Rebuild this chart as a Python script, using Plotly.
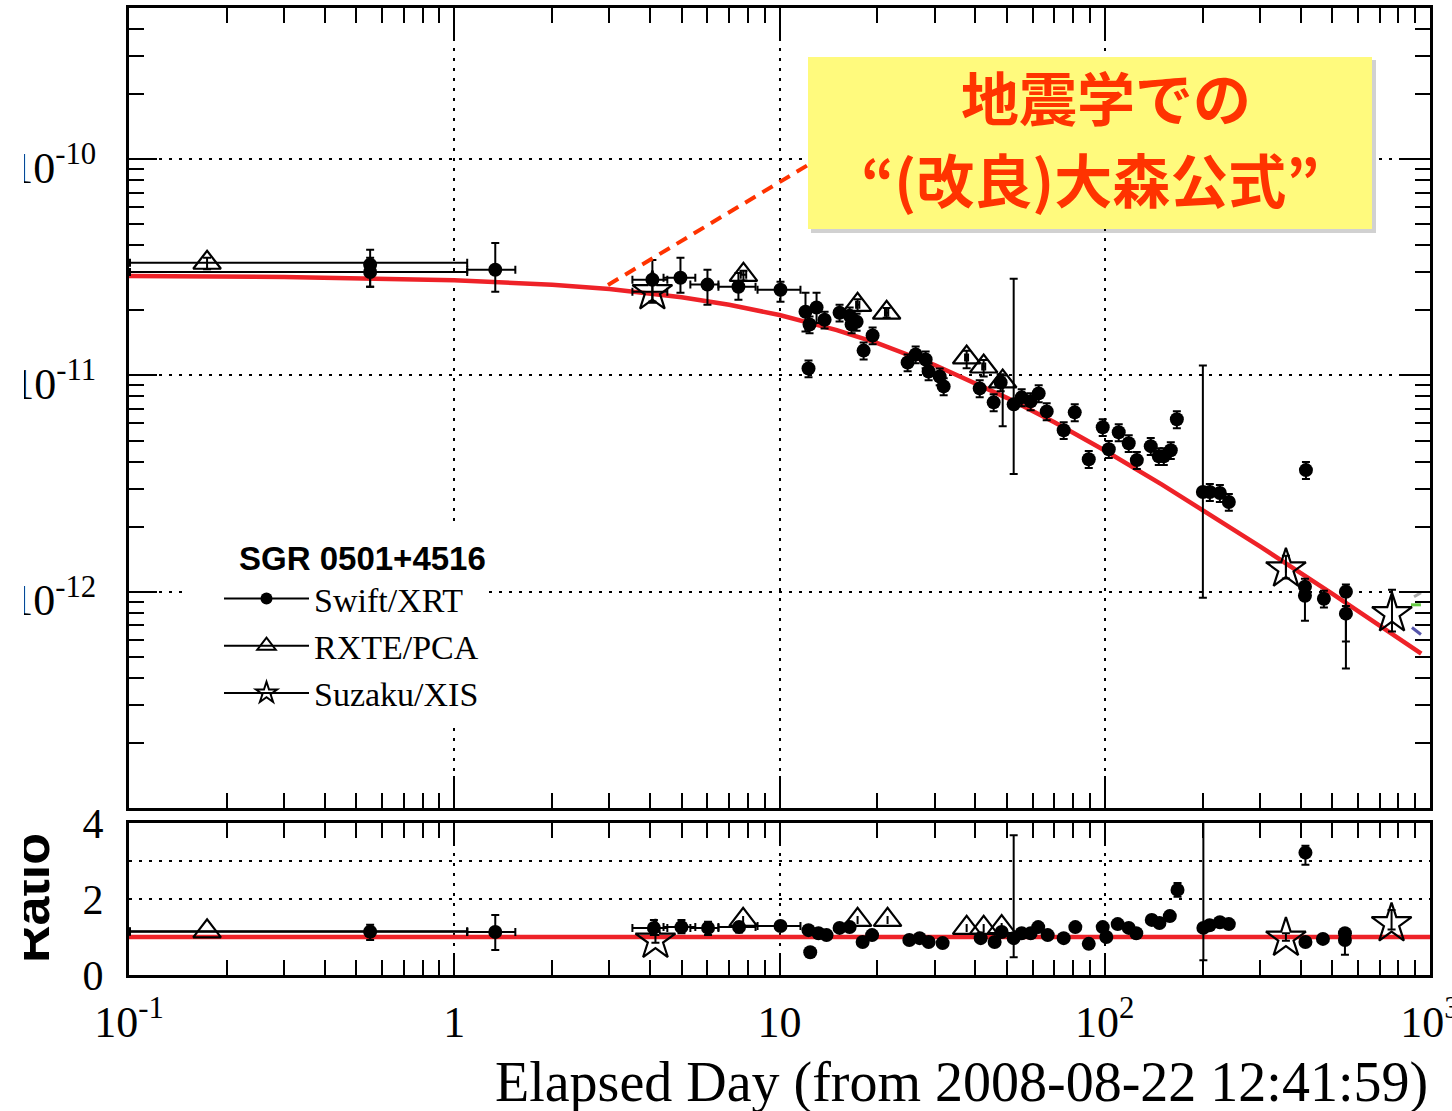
import plotly.graph_objects as go

# ---------------- data ----------------
# model ("modified Omori") curve, sampled along the red line
fit_t = [0.1, 0.3, 1, 2, 3, 5, 7, 10, 15, 20, 30, 50, 70, 100, 150, 200, 300, 500, 700, 940]
fit_flux = [2.885e-11, 2.855e-11, 2.757e-11, 2.627e-11, 2.508e-11, 2.30e-11, 2.123e-11, 1.902e-11,
            1.62e-11, 1.41e-11, 1.118e-11, 7.88e-12, 6.07e-12, 4.50e-12, 3.13e-12, 2.39e-12,
            1.62e-12, 9.8e-13, 6.98e-13, 5.18e-13]

# Swift/XRT points with individually visible error bars
swA_t = [0.5513, 0.5513, 1.337, 4.066, 4.960, 6.005, 7.477, 10.07, 12.02, 13.00, 52.48, 200.3, 412.6, 551.4, 551.4]
swA_f = [3.25e-11, 3.01e-11, 3.08e-11, 2.77e-11, 2.83e-11, 2.63e-11, 2.57e-11, 2.49e-11, 1.97e-11, 2.06e-11,
         7.35e-12, 2.89e-12, 9.58e-13, 1.0e-12, 7.92e-13]
swA_flo = [2.57e-11, 2.57e-11, 2.44e-11, 2.17e-11, 2.41e-11, 2.12e-11, 2.24e-11, 2.19e-11, 1.595e-11, 1.75e-11,
           3.50e-12, 9.38e-13, 7.35e-13, 5.88e-13, 4.42e-13]
swA_fhi = [3.81e-11, 3.50e-11, 4.10e-11, 3.42e-11, 3.50e-11, 3.08e-11, 2.98e-11, 2.71e-11, 2.41e-11, 2.41e-11,
           2.80e-11, 1.112e-11, 1.05e-12, 1.08e-12, 8.6e-13]
swA_tlo = [0.5513, 0.1007, 1.096, 3.53, 4.40, 5.32, 6.49, 8.56, 11.8, 12.8, 52.48, 200.3, 412.6, 551.4, 551.4]
swA_thi = [0.5513, 1.096, 1.541, 4.52, 5.51, 6.49, 8.44, 11.6, 12.3, 13.2, 52.48, 200.3, 412.6, 551.4, 551.4]

# remaining Swift/XRT points (small error bars)
swB_t = [12.28, 12.37, 13.76, 15.30, 16.43, 16.66, 17.26, 18.14, 19.33, 24.77, 26.22, 28.14, 28.74, 31.08,
         31.97, 41.26, 45.55, 47.86, 55.53, 59.19, 62.64, 66.30, 74.77, 80.86, 89.30, 98.58, 102.9, 110.4,
         118.5, 125.5, 138.5, 146.6, 151.9, 159.6, 166.6, 210.4, 225.9, 240.7, 415.5, 412.6, 471.9]
swB_f = [1.077e-11, 1.72e-11, 1.81e-11, 1.95e-11, 1.89e-11, 1.72e-11, 1.77e-11, 1.303e-11, 1.53e-11, 1.148e-11,
         1.25e-11, 1.185e-11, 1.043e-11, 9.89e-12, 8.90e-12, 8.71e-12, 7.51e-12, 9.28e-12, 7.92e-12, 7.59e-12,
         8.26e-12, 6.82e-12, 5.58e-12, 6.75e-12, 4.10e-12, 5.76e-12, 4.56e-12, 5.46e-12, 4.86e-12, 4.06e-12,
         4.71e-12, 4.23e-12, 4.23e-12, 4.51e-12, 6.27e-12, 2.89e-12, 2.86e-12, 2.60e-12, 3.65e-12, 1.054e-12,
         9.28e-13]

# RXTE/PCA
rx_t = [0.1738, 7.747, 17.38, 21.35, 37.62, 42.44, 48.55]
rx_f = [3.32e-11, 2.92e-11, 2.12e-11, 1.95e-11, 1.211e-11, 1.10e-11, 9.38e-12]
rx_flo = [3.10e-11, 2.75e-11, 1.98e-11, 1.85e-11, 1.08e-11, 9.9e-12, 5.82e-12]
rx_fhi = [3.50e-11, 3.05e-11, 2.25e-11, 2.05e-11, 1.30e-11, 1.18e-11, 1.00e-11]
rx_tlo = [0.1007, 7.6, 17.2, 21.1, 37.2, 42.0, 48.0]
rx_thi = [1.096, 7.9, 17.6, 21.6, 38.0, 42.9, 49.1]

# Suzaku/XIS
sz_t = [4.066, 360.6, 764.1]
sz_f = [2.44e-11, 1.276e-12, 7.92e-13]
sz_flo = [2.20e-11, 1.15e-12, 6.54e-13]
sz_fhi = [2.70e-11, 1.466e-12, 1.02e-12]
sz_tlo = [3.53, 360.6, 764.1]
sz_thi = [4.52, 360.6, 764.1]

# small coloured model fragments at the right edge
frag_gray_t, frag_gray_f = [893, 938], [9.48e-13, 9.9e-13]
frag_green_t, frag_green_f = [874, 938], [8.7e-13, 8.7e-13]
frag_blue_t, frag_blue_f = [880, 938], [6.83e-13, 6.34e-13]

# ---- ratio panel ----
ratio_model_t = [0.1, 1000]
ratio_model = [1, 1]

rsA_t = [0.5513, 1.337, 4.11, 4.995, 6.03, 7.51, 10.07, 52.48, 201.0, 414.0, 547.6]
rsA_r = [1.14, 1.13, 1.24, 1.26, 1.24, 1.26, 1.29, 0.97, 1.24, 3.22, 0.92]
rsA_rlo = [0.92, 0.66, 1.05, 1.10, 1.05, 1.12, 1.18, 0.47, 0.39, 2.90, 0.53]
rsA_rhi = [1.32, 1.58, 1.45, 1.45, 1.40, 1.38, 1.38, 3.68, 4.30, 3.40, 1.00]
rsA_tlo = [0.1007, 1.096, 3.53, 4.40, 5.32, 6.49, 8.56, 52.48, 201.0, 414.0, 547.6]
rsA_thi = [1.096, 1.541, 4.52, 5.51, 6.49, 8.44, 11.6, 52.48, 201.0, 414.0, 547.6]

rsB_t = [12.28, 12.43, 13.18, 13.95, 15.30, 16.43, 18.01, 19.26, 25.07, 26.97, 28.74, 31.74, 41.55, 45.87,
         48.20, 55.53, 59.19, 62.43, 66.77, 74.77, 81.20, 89.30, 98.58, 101.1, 109.6, 118.5, 125.0, 139.5,
         147.3, 158.5, 167.4, 210.0, 225.9, 240.7, 414.0, 468.6, 547.6]
rsB_r = [1.18, 0.60, 1.10, 1.05, 1.24, 1.26, 0.87, 1.05, 0.92, 0.97, 0.87, 0.84, 0.97, 0.87,
         1.13, 1.10, 1.10, 1.26, 1.05, 0.97, 1.26, 0.82, 1.26, 1.00, 1.34, 1.24, 1.10, 1.45,
         1.37, 1.55, 2.24, 1.31, 1.39, 1.34, 0.87, 0.95, 1.10]

rrx_t = [0.1738, 7.73, 17.38, 21.49, 37.62, 42.44, 48.20]
rrx_r = [1.15, 1.45, 1.45, 1.45, 1.24, 1.24, 1.26]
rrx_tlo = [0.1007, 7.73, 17.38, 21.49, 37.62, 42.44, 48.20]
rrx_thi = [1.096, 7.73, 17.38, 21.49, 37.62, 42.44, 48.20]

rsz_t = [4.155, 360.6, 761.8]
rsz_r = [0.92, 0.97, 1.35]
rsz_rlo = [0.85, 0.90, 1.20]
rsz_rhi = [1.05, 1.10, 1.71]

x_tickvals = [0.1, 1, 10, 100, 1000]
x_ticktext = ["10<sup>-1</sup>", "1", "10", "10<sup>2</sup>", "10<sup>3</sup>"]
y_tickvals = [1e-12, 1e-11, 1e-10]
y_ticktext = ["10<sup>-12</sup>", "10<sup>-11</sup>", "10<sup>-10</sup>"]
r_tickvals = [0, 2, 4]
r_gridvals = [2, 3]

callout_line1 = "地震学での"
callout_line2 = "“(改良)大森公式”"
legend_title = "SGR 0501+4516"
x_title = "Elapsed Day (from 2008-08-22 12:41:59)"
r_title = "Ratio"

# ---------------- figure ----------------
W, H = 1452, 1111
L, R, T, B = 129, 22, 8, 136
PW, PH = W - L - R, H - T - B


def px_x(p):
    return (p - L) / PW


def px_y(p):
    return (H - B - p) / PH


def diff_hi(v, hi):
    return [h - a for a, h in zip(v, hi)]


def diff_lo(v, lo):
    return [a - l for a, l in zip(v, lo)]


BLACK = "black"
FITRED = "#EE2228"
TXTRED = "#FF3300"
ebar = dict(color=BLACK, thickness=2, width=4)
CIRC = 14
TRI = 24
STAR = 30

fig = go.Figure()

# --- top panel ---
fig.add_trace(go.Scatter(x=fit_t, y=fit_flux, mode="lines", line=dict(color=FITRED, width=4.5),
                         showlegend=False, xaxis="x", yaxis="y"))
for ft, ff, col, dash in [(frag_gray_t, frag_gray_f, "#A8A8A8", "dash"),
                          (frag_green_t, frag_green_f, "#66CC44", "solid"),
                          (frag_blue_t, frag_blue_f, "#5555AA", "solid")]:
    fig.add_trace(go.Scatter(x=ft, y=ff, mode="lines", line=dict(color=col, width=3, dash=dash),
                             showlegend=False, xaxis="x", yaxis="y"))

fig.add_trace(go.Scatter(
    x=swA_t, y=swA_f, mode="markers", showlegend=False, xaxis="x", yaxis="y",
    marker=dict(symbol="circle", size=CIRC, color=BLACK),
    error_y=dict(type="data", symmetric=False, array=diff_hi(swA_f, swA_fhi),
                 arrayminus=diff_lo(swA_f, swA_flo), **ebar),
    error_x=dict(type="data", symmetric=False, array=diff_hi(swA_t, swA_thi),
                 arrayminus=diff_lo(swA_t, swA_tlo), **ebar)))
fig.add_trace(go.Scatter(
    x=swB_t, y=swB_f, mode="markers", showlegend=False, xaxis="x", yaxis="y",
    marker=dict(symbol="circle", size=CIRC, color=BLACK),
    error_y=dict(type="percent", value=9, **ebar)))
fig.add_trace(go.Scatter(
    x=rx_t, y=rx_f, mode="markers", showlegend=False, xaxis="x", yaxis="y",
    marker=dict(symbol="triangle-up-open", size=TRI, color=BLACK, line=dict(width=2.2, color=BLACK)),
    error_y=dict(type="data", symmetric=False, array=diff_hi(rx_f, rx_fhi),
                 arrayminus=diff_lo(rx_f, rx_flo), **ebar),
    error_x=dict(type="data", symmetric=False, array=diff_hi(rx_t, rx_thi),
                 arrayminus=diff_lo(rx_t, rx_tlo), **ebar)))
fig.add_trace(go.Scatter(
    x=sz_t, y=sz_f, mode="markers", showlegend=False, xaxis="x", yaxis="y",
    marker=dict(symbol="star-open", size=STAR, color=BLACK, line=dict(width=2.2, color=BLACK)),
    error_y=dict(type="data", symmetric=False, array=diff_hi(sz_f, sz_fhi),
                 arrayminus=diff_lo(sz_f, sz_flo), **ebar),
    error_x=dict(type="data", symmetric=False, array=diff_hi(sz_t, sz_thi),
                 arrayminus=diff_lo(sz_t, sz_tlo), **ebar)))

# legend entries
fig.add_trace(go.Scatter(x=[None], y=[None], mode="lines+markers", name="Swift/XRT",
                         line=dict(color=BLACK, width=2),
                         marker=dict(symbol="circle", size=12, color=BLACK), xaxis="x", yaxis="y"))
fig.add_trace(go.Scatter(x=[None], y=[None], mode="lines+markers", name="RXTE/PCA",
                         line=dict(color=BLACK, width=2),
                         marker=dict(symbol="triangle-up-open", size=16, color=BLACK,
                                     line=dict(width=2, color=BLACK)), xaxis="x", yaxis="y"))
fig.add_trace(go.Scatter(x=[None], y=[None], mode="lines+markers", name="Suzaku/XIS",
                         line=dict(color=BLACK, width=2),
                         marker=dict(symbol="star-open", size=16, color=BLACK,
                                     line=dict(width=2, color=BLACK)), xaxis="x", yaxis="y"))

# --- ratio panel ---
fig.add_trace(go.Scatter(x=ratio_model_t, y=ratio_model, mode="lines", line=dict(color=FITRED, width=4.5),
                         showlegend=False, xaxis="x2", yaxis="y2"))
fig.add_trace(go.Scatter(
    x=rsA_t, y=rsA_r, mode="markers", showlegend=False, xaxis="x2", yaxis="y2",
    marker=dict(symbol="circle", size=CIRC, color=BLACK),
    error_y=dict(type="data", symmetric=False, array=diff_hi(rsA_r, rsA_rhi),
                 arrayminus=diff_lo(rsA_r, rsA_rlo), **ebar),
    error_x=dict(type="data", symmetric=False, array=diff_hi(rsA_t, rsA_thi),
                 arrayminus=diff_lo(rsA_t, rsA_tlo), **ebar)))
fig.add_trace(go.Scatter(
    x=rsB_t, y=rsB_r, mode="markers", showlegend=False, xaxis="x2", yaxis="y2",
    marker=dict(symbol="circle", size=CIRC, color=BLACK),
    error_y=dict(type="percent", value=8, **ebar)))
fig.add_trace(go.Scatter(
    x=rrx_t, y=rrx_r, mode="markers", showlegend=False, xaxis="x2", yaxis="y2",
    marker=dict(symbol="triangle-up-open", size=TRI, color=BLACK, line=dict(width=2.2, color=BLACK)),
    error_x=dict(type="data", symmetric=False, array=diff_hi(rrx_t, rrx_thi),
                 arrayminus=diff_lo(rrx_t, rrx_tlo), **ebar)))
fig.add_trace(go.Scatter(
    x=rsz_t, y=rsz_r, mode="markers", showlegend=False, xaxis="x2", yaxis="y2",
    marker=dict(symbol="star-open", size=STAR, color=BLACK, line=dict(width=2.2, color=BLACK)),
    error_y=dict(type="data", symmetric=False, array=diff_hi(rsz_r, rsz_rhi),
                 arrayminus=diff_lo(rsz_r, rsz_rlo), **ebar)))

GRIDDASH = "3px,7px"
common_x = dict(type="log", range=[-1, 3], tickvals=x_tickvals, ticks="inside", tickwidth=2,
                tickcolor=BLACK, showline=True, linewidth=3, linecolor=BLACK, mirror="allticks",
                showgrid=True, gridcolor=BLACK, gridwidth=2, griddash=GRIDDASH, zeroline=False,
                automargin=False,
                minor=dict(ticks="inside", ticklen=15, tickwidth=2, tickcolor=BLACK, dtick="D1",
                           showgrid=False))

fig.update_layout(
    width=W, height=H, margin=dict(l=L, r=R, t=T, b=B, autoexpand=False),
    paper_bgcolor="white", plot_bgcolor="white",
    xaxis=dict(common_x, domain=[0, 1], anchor="y", showticklabels=False, ticklen=32),
    yaxis=dict(type="log", range=[-13, -9.301], domain=[px_y(808), 1], anchor="x",
               tickvals=y_tickvals, ticktext=y_ticktext, ticks="inside", ticklen=28, tickwidth=2,
               tickcolor=BLACK, showline=True, linewidth=3, linecolor=BLACK, mirror="allticks",
               showgrid=True, gridcolor=BLACK, gridwidth=2, griddash=GRIDDASH, zeroline=False,
               ticklabelstandoff=21, ticklabelshift=8, automargin=False,
               tickfont=dict(family="Liberation Serif", size=44, color=BLACK),
               minor=dict(ticks="inside", ticklen=15, tickwidth=2, tickcolor=BLACK, dtick="D1",
                          showgrid=False)),
    xaxis2=dict(common_x, domain=[0, 1], anchor="y2", ticklen=20, tickvals=x_tickvals,
                ticktext=x_ticktext, ticklabelstandoff=6, ticklabeloverflow="allow",
                tickfont=dict(family="Liberation Serif", size=44, color=BLACK)),
    yaxis2=dict(range=[0, 4], domain=[0, px_y(823)], anchor="x2", tickvals=r_tickvals,
                ticks="", showline=True, linewidth=3, linecolor=BLACK, mirror=True,
                showgrid=False, zeroline=False, ticklabelstandoff=14, automargin=False,
                tickfont=dict(family="Liberation Serif", size=42, color=BLACK),
                minor=dict(tickmode="array", tickvals=r_gridvals, ticks="", showgrid=True,
                           gridcolor=BLACK, gridwidth=2, griddash=GRIDDASH)),
    legend=dict(x=px_x(182), y=px_y(527), xanchor="left", yanchor="top", bgcolor="white",
                borderwidth=0, font=dict(family="Liberation Serif", size=34, color=BLACK),
                title=dict(text="\u00a0" * 6 + "<b>" + legend_title + "</b>",
                           font=dict(family="Liberation Sans", size=33, color=BLACK)),
                itemwidth=85, indentation=37),
    showlegend=True,
)

# callout box with shadow and dashed connector
fig.add_shape(type="rect", xref="paper", yref="paper", x0=px_x(811), x1=px_x(1376),
              y0=px_y(233), y1=px_y(60), fillcolor="rgba(0,0,0,0.18)", line=dict(width=0),
              layer="above")
fig.add_shape(type="rect", xref="paper", yref="paper", x0=px_x(808), x1=px_x(1372),
              y0=px_y(229), y1=px_y(57), fillcolor="#FFFA7D", line=dict(width=0), layer="above")
fig.add_shape(type="line", xref="paper", yref="paper", x0=px_x(608), y0=px_y(285),
              x1=px_x(808), y1=px_y(165), line=dict(color=TXTRED, width=4, dash="12px,8px"),
              layer="above")

fig.add_annotation(text="<b>" + callout_line1 + "</b>", xref="paper", yref="paper",
                   x=px_x(1106), y=px_y(96), xanchor="center", yanchor="middle", showarrow=False,
                   font=dict(family="Noto Sans CJK JP", size=58, color=TXTRED))
fig.add_annotation(text="<b>" + callout_line2 + "</b>", xref="paper", yref="paper",
                   x=px_x(1090), y=px_y(178), xanchor="center", yanchor="middle", showarrow=False,
                   font=dict(family="Noto Sans CJK JP", size=58, color=TXTRED))

# axis titles
fig.add_annotation(text=x_title, xref="paper", yref="paper", x=1.0, y=px_y(1082),
                   xanchor="right", yanchor="middle", showarrow=False,
                   font=dict(family="Liberation Serif", size=56, color=BLACK))
fig.add_annotation(text="<b>" + r_title + "</b>", xref="paper", yref="paper", x=px_x(31),
                   y=px_y(898), xanchor="center", yanchor="middle", showarrow=False, textangle=-90,
                   font=dict(family="Liberation Sans", size=52, color=BLACK))
# white strip clipping the left edge, as in the original picture
fig.add_annotation(text=" ", xref="paper", yref="paper", x=px_x(0), y=0.5, xanchor="left",
                   yanchor="middle", showarrow=False, width=24, height=1300, bgcolor="white",
                   borderpad=0, borderwidth=0)

fig.write_html("out.html")
